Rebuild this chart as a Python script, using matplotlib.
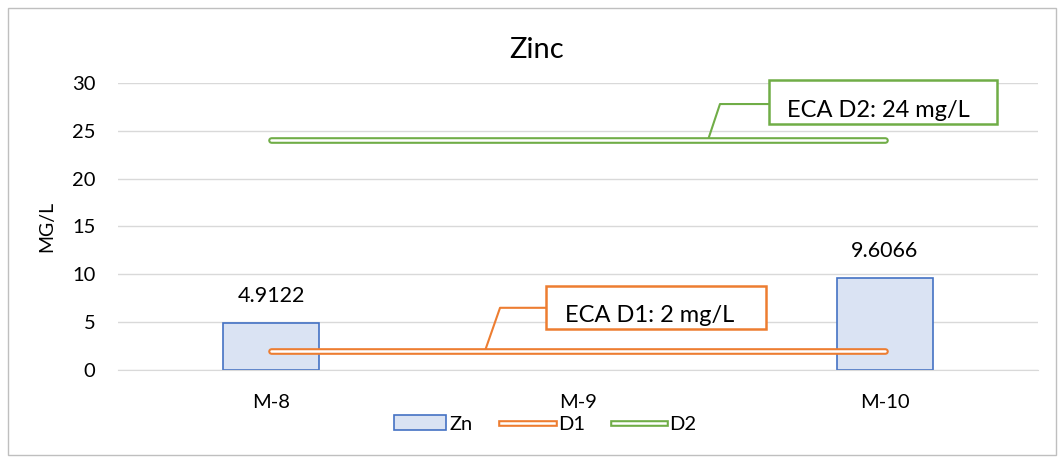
import matplotlib.pyplot as plt
from matplotlib.lines import Line2D
from matplotlib.patches import Patch, Rectangle
from matplotlib.legend_handler import HandlerTuple

plt.rcParams['font.family'] = ['Lato', 'DejaVu Sans']

# data
sites = ['M-8', 'M-9', 'M-10']
zn = [4.9122, 0, 9.6066]
zn_labels = ['4.9122', '', '9.6066']
d1 = [2, 2, 2]
d2 = [24, 24, 24]
d1_text = 'ECA D1: 2 mg/L'
d2_text = 'ECA D2: 24 mg/L'

blue_fill = '#dae3f3'
blue_edge = '#4472c4'
orange = '#ed7d31'
green = '#70ad47'

fig = plt.figure(figsize=(10.59, 4.57), dpi=100)
ax = fig.add_axes([0.111, 0.1904, 0.8696, 0.628])

x = list(range(len(sites)))
ax.bar([x[0], x[2]], [zn[0], zn[2]], width=0.315, color=blue_fill,
       edgecolor=blue_edge, linewidth=1.2, zorder=2)
for xi, v, lab in zip(x, zn, zn_labels):
    if lab:
        ax.text(xi, v + 2.85, lab, ha='center', va='center', fontsize=15.5)

# double lines
for vals, col in [(d1, orange), (d2, green)]:
    ax.plot(x, vals, color=col, lw=4.8, solid_capstyle='round', zorder=3)
    ax.plot(x, vals, color='white', lw=1.8, solid_capstyle='round', zorder=4)

# callouts
ax.plot([0.697, 0.746, 0.896], [2.0, 6.5, 6.5], color=orange, lw=1.5, zorder=3)
ax.add_patch(Rectangle((0.896, 4.29), 0.716, 4.49, fill=True, facecolor='white',
                       edgecolor=orange, lw=1.8, zorder=5, clip_on=False))
ax.text(1.233, 5.02, d1_text, ha='center', va='baseline', fontsize=17, zorder=6)

ax.plot([1.423, 1.4625, 1.622], [24.0, 27.8, 27.8], color=green, lw=1.5, zorder=3)
ax.add_patch(Rectangle((1.622, 25.7), 0.743, 4.6, fill=True, facecolor='white',
                       edgecolor=green, lw=1.8, zorder=5, clip_on=False))
ax.text(1.980, 26.45, d2_text, ha='center', va='baseline', fontsize=17, zorder=6)

ax.set_xlim(-0.5, 2.5)
ax.set_ylim(0, 30)
ax.set_yticks(range(0, 31, 5))
ax.set_xticks(x)
ax.set_xticklabels(sites)
ax.tick_params(axis='both', length=0, labelsize=14.5)
ax.tick_params(axis='y', pad=16)
ax.tick_params(axis='x', pad=17)
ax.grid(axis='y', color='#d9d9d9', lw=1, zorder=0)
ax.set_axisbelow(True)
for s in ['top', 'right', 'left']:
    ax.spines[s].set_visible(False)
ax.spines['bottom'].set_color('#d9d9d9')
ax.set_ylabel('MG/L', fontsize=14, labelpad=12)

fig.text(537 / 1059, 1 - 58 / 457, 'Zinc', ha='center', va='baseline', fontsize=21)

# legend
h_zn = Patch(facecolor=blue_fill, edgecolor=blue_edge, lw=1.2)
h_d1 = (Line2D([], [], color=orange, lw=4.8), Line2D([], [], color='white', lw=1.8))
h_d2 = (Line2D([], [], color=green, lw=4.8), Line2D([], [], color='white', lw=1.8))
fig.legend([h_zn, h_d1, h_d2], ['Zn', 'D1', 'D2'], loc='center',
           bbox_to_anchor=(545 / 1059, 1 - 424 / 457), ncol=3, frameon=False,
           fontsize=14.5, handlelength=2.6, handletextpad=0.2, columnspacing=1.4,
           handler_map={tuple: HandlerTuple(ndivide=1)})

# chart border
fig.patches.append(Rectangle((8 / 1059, 2 / 457), 1048 / 1059, 447 / 457,
                             transform=fig.transFigure, fill=False,
                             edgecolor='#bfbfbf', lw=1))

fig.savefig('out.png', dpi=100)
